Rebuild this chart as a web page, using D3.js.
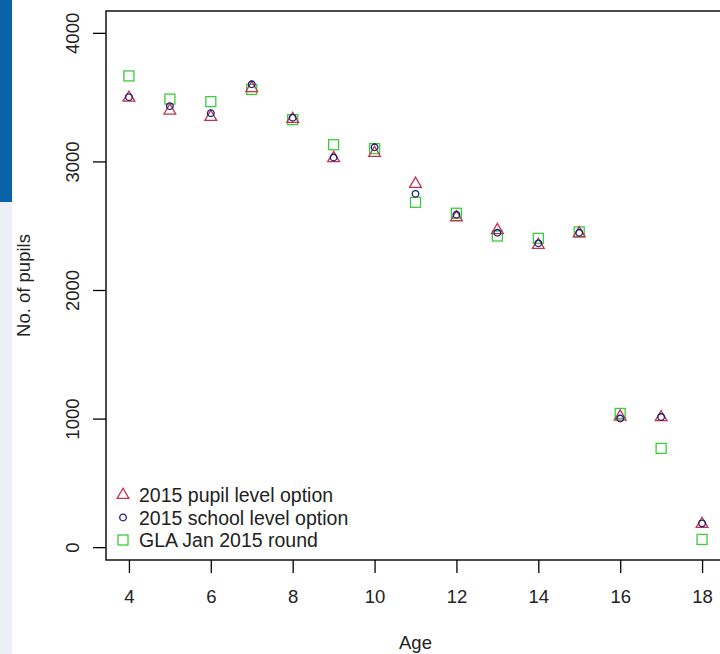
<!DOCTYPE html>
<html><head><meta charset="utf-8">
<script src="https://cdn.jsdelivr.net/npm/d3@7/dist/d3.min.js"></script>
<style>html,body{margin:0;padding:0;background:#fff;}svg{display:block;font-family:"Liberation Sans",Arial,sans-serif;}</style>
</head><body>
<script>
const ages = [4,5,6,7,8,9,10,11,12,13,14,15,16,17,18];
const pupilLevel  = [3495,3395,3345,3570,3330,3025,3065,2825,2565,2465,2350,2440,1015,1010,180];
const schoolLevel = [3500,3430,3375,3600,3340,3030,3110,2748,2585,2445,2363,2445,1000,1012,185];
const glaJan      = [3665,3485,3465,3560,3325,3130,3100,2682,2597,2420,2402,2452,1040,768,60];
const yTicks = [0,1000,2000,3000,4000];
const xTicks = [4,6,8,10,12,14,16,18];
const legendLabels = ["2015 pupil level option","2015 school level option","GLA Jan 2015 round"];

const W=720,H=654;
const svg=d3.select("body").append("svg").attr("width",W).attr("height",H);
// page strip at left
svg.append("rect").attr("x",0).attr("y",0).attr("width",12).attr("height",H).attr("fill","#eceff5");
svg.append("rect").attr("x",0).attr("y",0).attr("width",12).attr("height",202).attr("fill","#0a62a8");

const x=d3.scaleLinear().domain([3.44,18.56]).range([106,725]);
const y=d3.scaleLinear().domain([-100,4170]).range([560,11]);
const fs=18.5, fsLeg=19.5;

// box
svg.append("rect").attr("x",x.range()[0]).attr("y",y.range()[1])
  .attr("width",x.range()[1]-x.range()[0]).attr("height",y.range()[0]-y.range()[1])
  .attr("fill","none").attr("stroke","#000").attr("stroke-width",1.4);

// y axis
const gy=svg.append("g").attr("transform",`translate(${x.range()[0]},0)`)
  .call(d3.axisLeft(y).tickValues(yTicks).tickSize(13).tickFormat(d3.format("d")));
gy.select(".domain").remove();
gy.selectAll("line").attr("stroke","#000").attr("stroke-width",1.3);
gy.selectAll("text").attr("font-size",fs).attr("fill","#222")
  .attr("text-anchor","middle").attr("dy",0).attr("x",0)
  .attr("transform","translate(-27,0) rotate(-90)");

// x axis
const gx=svg.append("g").attr("transform",`translate(0,${y.range()[0]})`)
  .call(d3.axisBottom(x).tickValues(xTicks).tickSize(13).tickFormat(d3.format("d")));
gx.select(".domain").remove();
gx.selectAll("line").attr("stroke","#000").attr("stroke-width",1.3);
gx.selectAll("text").attr("font-size",fs).attr("fill","#222").attr("dy",0).attr("y",43);

// axis titles
svg.append("text").attr("x",(x.range()[0]+x.range()[1])/2).attr("y",649)
  .attr("text-anchor","middle").attr("font-size",fs).attr("fill","#222").text("Age");
svg.append("text").attr("transform",`translate(30,${(y.range()[0]+y.range()[1])/2}) rotate(-90)`)
  .attr("text-anchor","middle").attr("font-size",fs).attr("fill","#222").text("No. of pupils");

const cTri="#c0344c", cCirc="#1c1c7a", cSq="#3ccc3c";
const tri=d3.symbol().type(d3.symbolTriangle).size(60);
const sw=1.3;
const series=[
  {vals:glaJan,draw:(g)=>g.append("rect").attr("x",-5).attr("y",-5).attr("width",10).attr("height",10).attr("fill","none").attr("stroke",cSq).attr("stroke-width",sw)},
  {vals:pupilLevel,draw:(g)=>g.append("path").attr("d",tri()).attr("fill","none").attr("stroke",cTri).attr("stroke-width",sw)},
  {vals:schoolLevel,draw:(g)=>g.append("circle").attr("r",3.3).attr("fill","none").attr("stroke",cCirc).attr("stroke-width",sw)}
];
series.forEach(s=>{
  s.vals.forEach((v,i)=>{
    const g=svg.append("g").attr("transform",`translate(${x(ages[i])},${y(v)})`);
    s.draw(g);
  });
});

// legend
const legDraw=[series[1].draw,series[2].draw,series[0].draw];
legendLabels.forEach((lab,i)=>{
  const cy=495+i*22.5;
  const g=svg.append("g").attr("transform",`translate(123,${cy})`);
  legDraw[i](g);
  svg.append("text").attr("x",139).attr("y",cy+7).attr("font-size",fsLeg).attr("fill","#222").text(lab);
});
</script>
</body></html>
